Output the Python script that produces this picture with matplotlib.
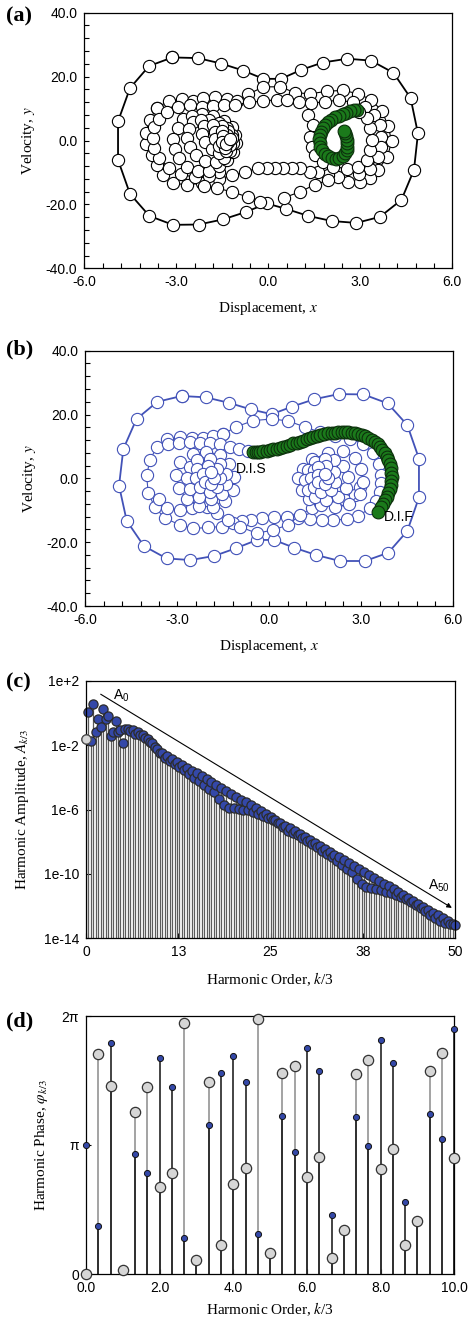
import numpy as np
import matplotlib.pyplot as plt
from matplotlib.ticker import MultipleLocator, FormatStrFormatter

plt.rcParams['font.family'] = 'Liberation Sans'
plt.rcParams['mathtext.fontset'] = 'stix'
plt.rcParams['axes.unicode_minus'] = False
SERIF = 'Liberation Serif'

# ---------------- panel (a) : white orbit + green segment
outer_a = [(-3.13, 26.0), (-2.30, 25.8), (-1.54, 24.1), (-0.82, 21.9), (-0.16, 19.3), (0.41, 19.3),
           (1.07, 22.1), (1.77, 24.4), (2.58, 25.6), (3.35, 25.0), (4.08, 21.2), (4.64, 13.3),
           (4.88, 2.2), (4.75, -9.2), (4.34, -18.6), (3.64, -23.9), (2.87, -25.8), (2.07, -25.2),
           (1.30, -23.6), (0.58, -21.4), (-0.05, -19.7), (-0.74, -22.4), (-1.48, -24.7), (-2.27, -26.3),
           (-3.11, -26.4), (-3.88, -23.6), (-4.51, -16.7), (-4.90, -6.1), (-4.90, 6.0), (-4.51, 16.4),
           (-3.89, 23.3), (-3.13, 26.0)]
mid_a = [(-3.64, 10.3), (-3.23, 12.4), (-2.83, 13.0), (-2.45, 12.4), (-2.12, 13.2), (-1.74, 13.5),
         (-1.36, 13.0), (-1.01, 12.4), (-0.65, 14.5), (-0.16, 16.8), (0.38, 16.8), (0.87, 15.0),
         (1.36, 14.6), (1.90, 15.4), (2.45, 15.7), (2.93, 14.6), (3.35, 12.8), (3.70, 9.3),
         (3.91, 4.6), (4.02, -0.3), (3.88, -5.3), (3.57, -9.2), (3.31, -11.7), (2.99, -13.0),
         (2.60, -13.0), (2.27, -11.4), (1.95, -10.8), (1.62, -9.9), (1.36, -9.9), (1.03, -8.6),
         (0.77, -8.6), (0.48, -8.6), (0.22, -8.6), (-0.04, -8.6), (-0.34, -8.6), (-0.76, -9.9),
         (-1.18, -10.8), (-1.62, -12.2), (-2.16, -13.3), (-2.65, -13.9), (-3.11, -13.3), (-3.43, -10.8),
         (-3.63, -7.7), (-3.80, -4.5), (-3.98, -1.0), (-4.00, 2.5), (-3.86, 6.5), (-3.64, 10.3)]
inner_a = [(-1.60, -9.8), (-1.95, -11.0), (-2.40, -11.5), (-2.85, -10.6), (-3.25, -8.5), (-3.55, -5.5),
           (-3.72, -2.5), (-3.75, 0.8), (-3.72, 4.3), (-3.55, 6.8), (-3.30, 9.0), (-2.95, 10.6),
           (-2.55, 11.0), (-2.15, 10.6), (-1.80, 10.9), (-1.45, 11.2), (-1.10, 11.0), (-0.62, 12.0),
           (-0.16, 12.3), (0.27, 12.8), (0.62, 12.6), (1.00, 12.0), (1.40, 11.6), (1.85, 12.2),
           (2.30, 12.6), (2.75, 12.0), (3.15, 10.6), (3.45, 8.0), (3.64, 4.8), (3.67, 1.1),
           (3.66, -2.0), (3.59, -5.1), (3.32, -8.8), (2.95, -10.4)]
bot_a = [(-2.10, -14.2), (-1.67, -14.9), (-1.18, -16.1), (-0.66, -17.7), (-0.27, -19.2)]
bot2_a = [(0.51, -17.9), (1.03, -16.1), (1.52, -13.8), (1.96, -12.4)]
left1_a = [(-2.79, 6.6), (-2.96, 3.8), (-3.12, 0.6), (-3.05, -2.8), (-2.90, -5.6), (-2.66, -8.2),
           (-2.30, -9.6), (-1.95, -9.4), (-1.62, -8.0), (-1.35, -6.0), (-1.15, -3.5), (-1.05, -0.8),
           (-1.08, 1.8), (-1.20, 4.2), (-1.45, 6.2), (-1.80, 7.6), (-2.15, 8.2), (-2.50, 7.8)]
left2_a = [(-2.45, 5.8), (-2.60, 3.5), (-2.65, 0.8), (-2.55, -2.0), (-2.35, -4.5), (-2.05, -6.3),
           (-1.72, -6.8), (-1.45, -5.5), (-1.25, -3.3), (-1.15, -0.8), (-1.20, 1.8), (-1.35, 4.0),
           (-1.60, 5.6), (-1.95, 6.4), (-2.20, 6.5)]
left3_a = [(-2.10, 4.5), (-2.15, 2.0), (-2.05, -0.5), (-1.85, -2.8), (-1.60, -4.0), (-1.38, -3.3),
           (-1.25, -1.5), (-1.20, 0.8), (-1.30, 3.0), (-1.50, 4.5), (-1.80, 5.0)]
left4_a = [(-1.75, 2.8), (-1.75, 0.5), (-1.60, -1.8), (-1.40, -2.2), (-1.30, -0.5), (-1.35, 1.8),
           (-1.50, 3.0)]
left5_a = [(-1.48, 1.5), (-1.50, -0.5), (-1.38, -1.0), (-1.25, 0.5)]
right1_a = [(1.30, 7.9), (1.47, 4.8), (1.36, 1.1), (1.41, -2.0), (1.52, -4.6), (1.79, -6.7),
            (2.12, -8.2), (2.55, -8.8), (2.93, -8.2), (3.21, -6.2), (3.32, -3.0), (3.37, 0.1),
            (3.32, 3.8), (3.21, 6.9), (2.97, 9.0)]
green_a = [(2.90, 9.6), (2.78, 9.4), (2.66, 9.1), (2.54, 8.7), (2.42, 8.3), (2.30, 7.8), (2.18, 7.2),
           (2.06, 6.5), (1.95, 5.7), (1.86, 4.8), (1.78, 3.8), (1.72, 2.7), (1.68, 1.6), (1.66, 0.4),
           (1.67, -0.8), (1.70, -2.0), (1.76, -3.1), (1.85, -4.1), (1.96, -4.9), (2.08, -5.5),
           (2.20, -5.8), (2.32, -5.5), (2.42, -4.8), (2.50, -4.0), (2.55, -3.0), (2.58, -1.9),
           (2.58, -0.8), (2.56, 0.3), (2.53, 1.3), (2.50, 2.2), (2.47, 3.0)]

# ---------------- panel (b) : blue orbit + green segment
outer_b = [(-2.86, 25.8), (-2.08, 25.4), (-1.33, 23.7), (-0.60, 21.6), (0.08, 20.1), (0.75, 22.5),
           (1.47, 24.8), (2.26, 26.4), (3.07, 26.3), (3.86, 23.5), (4.50, 16.7), (4.88, 6.2),
           (4.88, -6.0), (4.50, -16.5), (3.88, -23.3), (3.12, -25.9), (2.30, -25.9), (1.52, -24.0),
           (0.80, -21.7), (0.15, -19.3), (-0.40, -19.3), (-1.09, -21.9), (-1.79, -24.3), (-2.57, -25.6),
           (-3.35, -25.1), (-4.09, -21.2), (-4.65, -13.3), (-4.90, -2.3), (-4.76, 9.2), (-4.33, 18.6),
           (-3.65, 24.0), (-2.86, 25.8)]
mid_b = [(-1.52, 13.8), (-1.07, 16.2), (-0.52, 18.1), (0.08, 18.6), (0.61, 18.0), (1.16, 16.1),
         (1.65, 14.5), (2.15, 13.2), (2.63, 12.4), (3.05, 10.8), (3.39, 7.8), (3.58, 4.5),
         (3.65, 1.0), (3.65, -1.6), (3.61, -4.2), (3.48, -7.0), (3.28, -9.4), (2.90, -11.8),
         (2.52, -12.8), (2.09, -13.1), (1.71, -13.1), (1.33, -12.8), (0.92, -12.5), (0.57, -12.2),
         (0.15, -12.2), (-0.25, -12.5), (-0.60, -13.0), (-0.88, -13.4), (-1.17, -14.1), (-1.55, -15.1),
         (-1.99, -15.4), (-2.48, -15.7), (-2.91, -14.6), (-3.40, -12.5), (-3.73, -9.1), (-3.95, -4.5),
         (-4.00, 1.0), (-3.89, 5.7), (-3.67, 9.9), (-3.32, 12.2), (-2.91, 13.1), (-2.53, 12.5),
         (-2.15, 12.6), (-1.85, 13.2), (-1.52, 13.8)]
lead_b = [(-3.30, 10.8), (-2.95, 11.0), (-2.60, 11.4), (-2.25, 11.2), (-1.93, 11.0), (-1.61, 10.8),
          (-1.28, 9.9), (-0.98, 9.1), (-0.70, 8.7)]
bot_b = [(-3.60, -6.5), (-3.35, -9.4), (-2.91, -9.8), (-2.53, -9.3), (-2.04, -9.0), (-1.72, -11.0),
         (-1.34, -13.1), (-0.95, -15.2), (-0.41, -17.2), (0.12, -16.2), (0.61, -14.6), (1.00, -11.5),
         (1.39, -9.3), (1.65, -7.7), (2.04, -6.8), (2.47, -6.8), (2.80, -5.2), (2.96, -2.7)]
left1_b = [(-2.90, 5.0), (-3.05, 1.0), (-2.95, -3.0), (-2.70, -6.5), (-2.30, -8.8), (-1.85, -8.9),
           (-1.45, -7.0), (-1.20, -3.5), (-1.15, 0.5), (-1.30, 4.5), (-1.60, 7.3), (-2.05, 8.4),
           (-2.50, 7.5)]
left2_b = [(-2.60, 3.5), (-2.70, 0.2), (-2.60, -3.2), (-2.30, -5.8), (-1.90, -6.6), (-1.55, -5.0),
           (-1.40, -1.8), (-1.40, 1.5), (-1.60, 4.6), (-1.95, 6.2), (-2.35, 5.6)]
left3_b = [(-2.35, 2.8), (-2.40, 0.0), (-2.25, -2.8), (-1.95, -4.2), (-1.70, -2.8), (-1.60, 0.0),
           (-1.70, 2.8), (-2.00, 4.0)]
left4_b = [(-2.15, 1.5), (-2.10, -1.0), (-1.90, -1.8), (-1.80, 0.0), (-1.90, 2.0)]
right1_b = [(1.90, 7.8), (1.40, 6.0), (1.10, 3.0), (0.95, 0.0), (1.05, -3.5), (1.30, -6.5),
            (1.70, -8.5), (2.15, -9.0), (2.60, -8.0), (2.95, -5.0), (3.05, -1.0), (3.00, 3.0),
            (2.80, 6.5), (2.40, 8.5)]
right2_b = [(1.50, 5.0), (1.25, 2.5), (1.15, -0.5), (1.25, -3.5), (1.50, -5.8), (1.85, -6.8),
            (2.25, -6.0), (2.50, -3.0), (2.55, 0.5), (2.40, 3.8), (2.10, 5.8), (1.80, 6.2)]
right3_b = [(1.45, 2.5), (1.35, 0.0), (1.45, -2.8), (1.70, -4.2), (2.00, -3.8), (2.15, -1.0),
            (2.10, 2.0), (1.85, 3.8), (1.60, 3.6)]
right4_b = [(1.60, 1.0), (1.60, -1.2), (1.80, -1.8), (1.90, 0.0), (1.80, 1.5)]
green_b = [(-0.52, 8.4), (-0.45, 8.4), (-0.38, 8.4), (-0.30, 8.4), (-0.20, 8.5), (-0.09, 8.7),
           (0.02, 8.9), (0.13, 9.1), (0.24, 9.3), (0.35, 9.5), (0.46, 9.8), (0.57, 10.2),
           (0.68, 10.6), (0.78, 11.0), (0.89, 11.2), (1.00, 11.5), (1.11, 11.8), (1.22, 12.2),
           (1.33, 12.6), (1.43, 13.1), (1.54, 13.3), (1.65, 13.6), (1.78, 13.8), (1.92, 14.1),
           (2.03, 14.2), (2.14, 14.3), (2.25, 14.4), (2.36, 14.5), (2.47, 14.5), (2.58, 14.4),
           (2.69, 14.3), (2.79, 14.1), (2.90, 13.9), (3.01, 13.6), (3.12, 13.2), (3.23, 12.7),
           (3.34, 12.1), (3.45, 11.5), (3.53, 10.7), (3.61, 9.9), (3.69, 8.9), (3.77, 7.8),
           (3.83, 6.8), (3.88, 5.7), (3.92, 4.4), (3.96, 3.1), (3.98, 1.8), (3.99, 0.5),
           (3.98, -0.8), (3.96, -2.1), (3.92, -3.3), (3.88, -4.5), (3.83, -5.7), (3.77, -6.8),
           (3.71, -7.9), (3.64, -8.9), (3.55, -10.4)]

# ---------------- panel (c) : harmonic amplitudes (log10), k = 0..150
amp_log = [-1.62, 0.07, -1.75, 0.53, -1.17, -0.40, -0.86, 0.22, -0.40, -0.19,
           -1.44, -1.17, -0.48, -1.17, -1.05, -1.85, -1.02, -0.98, -1.10, -1.05,
           -1.30, -1.20, -1.40, -1.38, -1.55, -1.62, -1.80, -1.90, -2.10, -2.25,
           -2.50, -2.50, -2.80, -2.68, -2.98, -2.86, -3.15, -3.04, -3.33, -3.22,
           -3.55, -3.40, -3.78, -3.58, -4.02, -3.76, -4.25, -3.94, -4.47, -4.12,
           -4.70, -4.30, -4.92, -4.48, -5.35, -4.66, -5.75, -4.84, -5.88, -5.02,
           -5.93, -5.20, -5.97, -5.38, -6.00, -5.56, -6.06, -5.74, -6.18, -5.92,
           -6.30, -6.10, -6.41, -6.28, -6.52, -6.46, -6.64, -6.64, -6.86, -6.82,
           -7.10, -7.00, -7.31, -7.18, -7.46, -7.36, -7.61, -7.54, -7.78, -7.72,
           -7.97, -7.90, -8.16, -8.08, -8.35, -8.26, -8.55, -8.44, -8.74, -8.62,
           -8.98, -8.80, -9.21, -8.98, -9.44, -9.16, -9.67, -9.34, -9.90, -9.52,
           -10.30, -9.70, -10.65, -9.88, -10.80, -10.06, -10.88, -10.24, -10.95, -10.42,
           -11.02, -10.60, -11.10, -10.78, -11.17, -10.96, -11.28, -11.14, -11.42, -11.32,
           -11.56, -11.50, -11.73, -11.68, -11.92, -11.86, -12.11, -12.04, -12.33, -12.22,
           -12.56, -12.40, -12.77, -12.58, -12.92, -12.76, -13.06, -12.94, -13.14, -13.10,
           -13.20]
amp0_gray_log = -1.62

# ---------------- panel (d) : harmonic phases (units of pi), k = 0..30
phase_gray = [0.00, 1.705, 1.460, 0.031, 1.258, 1.447, 0.677, 0.785, 1.943, 0.106, 1.491,
              0.227, 0.695, 0.819, 1.974, 0.160, 1.556, 1.612, 0.749, 0.904, 0.121, 0.341,
              1.553, 1.656, 0.811, 0.966, 0.225, 0.411, 1.574, 1.716, 0.902]
phase_blue = [1.000, 0.372, 1.793, 0.031, 0.928, 0.780, 1.677, 1.447, 0.276, 0.106, 1.155,
              1.558, 1.693, 1.486, 0.307, 0.160, 1.222, 0.946, 1.749, 1.571, 0.455, 0.341,
              1.217, 0.992, 1.811, 1.633, 0.561, 0.411, 1.243, 1.047, 1.897]

GREEN = '#1b7a1b'
BLUE_EDGE = '#4252b8'
BLUE_FILL = '#3448a8'
GRAY_FILL = '#d6d6d6'

W, H = 473.0, 1322.0
fig = plt.figure(figsize=(W / 100, H / 100), dpi=100)


def box(l, t, r, b):
    return fig.add_axes([l / W, 1 - b / H, (r - l) / W, (b - t) / H])


def style(ax):
    for s in ax.spines.values():
        s.set_linewidth(0.9)
    ax.tick_params(which='both', direction='in', top=False, right=False,
                   length=3.5, width=0.8, labelsize=10, pad=5)


def phase_panel(ax, edge, outer, rings, green):
    x, y = np.array(outer).T
    ax.plot(x, y, '-o', color=edge, lw=1.3, ms=8.8, mfc='white', mec=edge, mew=0.8)
    for r in rings:
        x, y = np.array(r).T
        ax.plot(x, y, '-o', color=edge, lw=0.8, ms=8.8, mfc='white', mec=edge, mew=0.8)
    x, y = np.array(green).T
    ax.plot(x, y, 'o', ms=9.2, mfc=GREEN, mec='#0c300c', mew=0.8)
    ax.set_xlim(-6, 6)
    ax.set_ylim(-40, 40)
    ax.xaxis.set_major_locator(MultipleLocator(3))
    ax.xaxis.set_minor_locator(MultipleLocator(0.6))
    ax.yaxis.set_major_locator(MultipleLocator(20))
    ax.yaxis.set_minor_locator(MultipleLocator(4))
    ax.xaxis.set_major_formatter(FormatStrFormatter('%.1f'))
    ax.yaxis.set_major_formatter(FormatStrFormatter('%.1f'))
    style(ax)
    ax.set_xlabel('Displacement, $x$', fontfamily=SERIF, fontsize=11, labelpad=8)
    ax.set_ylabel('Velocity, $y$', fontfamily=SERIF, fontsize=11, labelpad=6)


ax_a = box(84.3, 12.7, 452.3, 268.3)
phase_panel(ax_a, 'black', outer_a,
            [mid_a, inner_a, bot_a, bot2_a, left1_a, left2_a, left3_a, left4_a, left5_a, right1_a],
            green_a)

ax_b = box(85.3, 350.7, 453.3, 606.0)
phase_panel(ax_b, BLUE_EDGE, outer_b,
            [mid_b, lead_b, bot_b, left1_b, left2_b, left3_b, left4_b,
             right1_b, right2_b, right3_b, right4_b],
            green_b)
ax_b.text(-1.09, 2.9, 'D.I.S', fontsize=10, va='center', ha='left')
ax_b.text(3.74, -12.1, 'D.I.F', fontsize=10, va='center', ha='left')

# ---- (c)
ax_c = box(86.0, 680.7, 455.0, 938.3)
k_c = np.arange(len(amp_log)) / 3.0
amp = 10.0 ** np.array(amp_log)
ax_c.set_yscale('log')
ax_c.vlines(k_c, 1e-14, amp, color='#5c5c5c', lw=0.9)
ax_c.plot(k_c, amp, 'o', ms=6.6, mfc=BLUE_FILL, mec='#2b2b2b', mew=0.9, clip_on=False)
ax_c.plot([0], [10.0 ** amp0_gray_log], 'o', ms=6.6, mfc=GRAY_FILL, mec='#555555', mew=0.9,
          clip_on=False, zorder=3)
ax_c.annotate('', xy=(49.9, 10 ** -12.2), xytext=(1.67, 10 ** 1.25),
              arrowprops=dict(arrowstyle='-|>', lw=0.8, color='black', mutation_scale=7))
ax_c.text(3.7, 10 ** 1.05, '$\\mathregular{A_0}$', fontsize=10, va='center')
ax_c.text(46.3, 10 ** -10.75, '$\\mathregular{A_{50}}$', fontsize=10, va='center')
ax_c.set_xlim(0, 50)
ax_c.set_ylim(1e-14, 1e2)
ax_c.set_yticks([1e2, 1e-2, 1e-6, 1e-10, 1e-14])
ax_c.set_yticklabels(['1e+2', '1e-2', '1e-6', '1e-10', '1e-14'])
ax_c.yaxis.set_minor_locator(plt.NullLocator())
ax_c.set_xticks([0, 12.5, 25, 37.5, 50])
ax_c.set_xticklabels(['0', '13', '25', '38', '50'])
style(ax_c)
ax_c.set_xlabel('Harmonic Order, $k$/3', fontfamily=SERIF, fontsize=11, labelpad=8)
ax_c.set_ylabel('Harmonic Amplitude, $A_{k/3}$', fontfamily=SERIF, fontsize=11, labelpad=9)

# ---- (d)
ax_d = box(86.0, 1016.0, 454.3, 1274.0)
k_d = np.arange(len(phase_gray)) / 3.0
pg = np.array(phase_gray) * np.pi
pb = np.array(phase_blue) * np.pi
ax_d.vlines(k_d, 0, pg, color='#8a8a8a', lw=1.1)
ax_d.vlines(k_d, 0, pb, color='#111111', lw=1.1)
ax_d.plot(k_d, pb, 'o', ms=4.4, mfc=BLUE_FILL, mec='#111111', mew=0.7, clip_on=False, zorder=3)
ax_d.plot(k_d, pg, 'o', ms=7.4, mfc=GRAY_FILL, mec='#333333', mew=0.9, clip_on=False, zorder=4)
ax_d.set_xlim(0, 10)
ax_d.set_ylim(0, 2 * np.pi)
ax_d.set_xticks([0, 2, 4, 6, 8, 10])
ax_d.xaxis.set_major_formatter(FormatStrFormatter('%.1f'))
ax_d.set_yticks([0, np.pi, 2 * np.pi])
ax_d.set_yticklabels(['0', 'π', '2π'])
style(ax_d)
ax_d.set_xlabel('Harmonic Order, $k$/3', fontfamily=SERIF, fontsize=11, labelpad=4)
ax_d.set_ylabel('Harmonic Phase, $\\varphi_{k/3}$', fontfamily=SERIF, fontsize=11, labelpad=8)

for lab, yy in [('(a)', 16), ('(b)', 349), ('(c)', 682), ('(d)', 1021)]:
    fig.text(6 / W, 1 - yy / H, lab, fontfamily=SERIF, fontweight='bold', fontsize=16,
             ha='left', va='center')

fig.savefig('out.png', dpi=100)
